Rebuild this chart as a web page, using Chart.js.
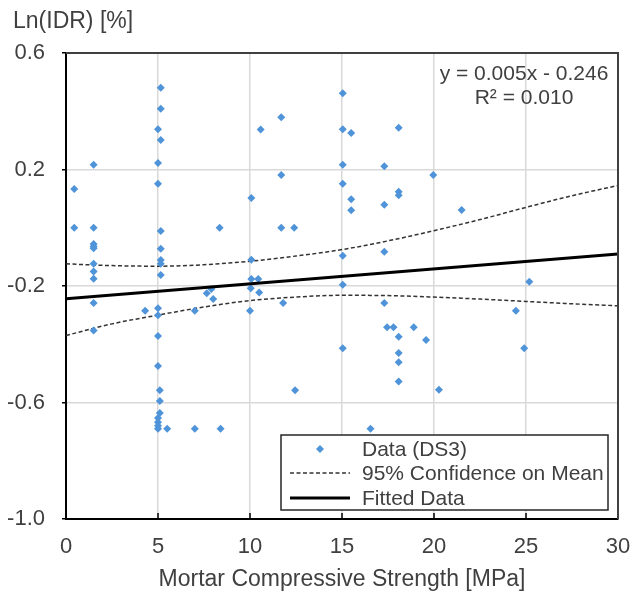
<!DOCTYPE html>
<html>
<head>
<meta charset="utf-8">
<script src="https://cdn.jsdelivr.net/npm/chart.js@4"></script>
<style>
  html, body { margin: 0; padding: 0; background: #fff; }
  #wrap { width: 635px; height: 599px; }
</style>
</head>
<body>
<div id="wrap"><canvas id="chart" width="635" height="599"></canvas></div>
<script>
// values
const xTicks = [0, 5, 10, 15, 20, 25, 30];
const yTicks = [-1.0, -0.6, -0.2, 0.2, 0.6];

const dataX = [
  0.45, 0.45,
  1.5, 1.5, 1.5, 1.5, 1.5, 1.5, 1.5, 1.5, 1.5, 1.5,
  5.15, 5.15, 5.0, 5.15, 5.0, 5.0, 5.15, 5.15, 5.15, 5.15, 5.15, 5.0, 5.0, 5.0, 5.0, 5.1, 5.1, 5.1, 5.0, 5.0, 5.0, 5.0,
  5.5, 4.3, 7.0, 7.0,
  7.65, 7.9, 8.0,
  8.35, 8.4,
  10.0, 10.07, 10.07, 10.07, 10.04, 10.45, 10.5,
  10.58, 11.7, 11.7, 11.7, 11.8, 12.4, 12.45,
  15.04, 15.04, 15.04, 15.04, 15.04, 15.04, 15.04,
  15.5, 15.5, 15.5,
  16.55,
  17.3, 17.3, 17.3, 17.3,
  17.45, 17.8,
  18.08, 18.08, 18.08, 18.08, 18.08, 18.08, 18.08,
  18.9, 19.57, 19.96, 20.27, 21.5, 24.45, 24.9, 25.18
];
const dataY = [
  0.133, 0.0,
  0.216, 0.0, -0.056, -0.064, -0.07, -0.124, -0.15, -0.175, -0.258, -0.353,
  0.481, 0.409, 0.338, 0.301, 0.222, 0.151, -0.011, -0.072, -0.111, -0.124, -0.162, -0.276, -0.30, -0.372, -0.475, -0.558, -0.595, -0.636, -0.653, -0.668, -0.68, -0.69,
  -0.69, -0.285, -0.285, -0.69,
  -0.225, -0.21, -0.245,
  0.0, -0.69,
  -0.285, 0.102, -0.11, -0.176, -0.208, -0.176, -0.222,
  0.337, 0.379, 0.181, 0.0, -0.258, 0.0, -0.558,
  0.462, 0.338, 0.216, 0.151, -0.096, -0.196, -0.414,
  0.325, 0.098, 0.06,
  -0.69,
  0.211, 0.079, -0.082, -0.258,
  -0.342, -0.342,
  0.343, 0.124, 0.112, -0.374, -0.43, -0.462, -0.528,
  -0.342, -0.385, 0.181, -0.556, 0.061, -0.285, -0.414, -0.185
];

const ciX = [0, 2.5, 5, 7.5, 10, 12.5, 15, 17.5, 20, 22.5, 25, 27.5, 30];
const ciUpper = [-0.124, -0.13, -0.132, -0.127, -0.115, -0.097, -0.075, -0.045, -0.01, 0.028, 0.07, 0.11, 0.145];
const ciLower = [-0.37, -0.33, -0.30, -0.272, -0.25, -0.238, -0.232, -0.233, -0.238, -0.245, -0.253, -0.261, -0.268];

const fitX = [0, 30];
const fitY = [-0.244, -0.09];

const eqText = 'y = 0.005x - 0.246';
const r2Text = 'R\u00B2 = 0.010';
const seriesNames = ['Data (DS3)', '95% Confidence on Mean', 'Fitted Data'];

const FONT = '"Liberation Sans", Arial, sans-serif';
const TEXT = '#404040';
const BLUE = '#4F93D8';

const pts = (xs, ys) => xs.map((x, i) => ({x: x, y: ys[i]}));

const overlay = {
  id: 'overlay',
  afterDraw(chart) {
    const {ctx, chartArea: a, scales: {x}} = chart;
    ctx.save();
    // top and right frame
    ctx.strokeStyle = '#404040';
    ctx.lineWidth = 2;
    ctx.beginPath();
    ctx.moveTo(a.left, a.top);
    ctx.lineTo(a.right, a.top);
    ctx.lineTo(a.right, a.bottom);
    ctx.stroke();
    // inward tick marks on the x axis
    ctx.strokeStyle = '#000';
    ctx.lineWidth = 1.5;
    xTicks.slice(1, -1).forEach(v => {
      const px = x.getPixelForValue(v);
      ctx.beginPath();
      ctx.moveTo(px, a.bottom);
      ctx.lineTo(px, a.bottom - 6);
      ctx.stroke();
    });
    // y axis title
    ctx.fillStyle = TEXT;
    ctx.font = '23px ' + FONT;
    ctx.textAlign = 'left';
    ctx.textBaseline = 'middle';
    ctx.fillText('Ln(IDR) [%]', 13, 22);
    // trendline equation
    ctx.font = '21px ' + FONT;
    ctx.textAlign = 'center';
    const ex = a.right - 94;
    ctx.fillText(eqText, ex, a.top + 21);
    ctx.fillText(r2Text, ex, a.top + 45);
    // legend box
    const lw = 327, lh = 75;
    const lx = a.right - 337, ly = a.bottom - 84;
    ctx.fillStyle = '#fff';
    ctx.fillRect(lx, ly, lw, lh);
    ctx.strokeStyle = '#262626';
    ctx.lineWidth = 1.5;
    ctx.strokeRect(lx, ly, lw, lh);
    const rows = [ly + 14, ly + 38, ly + 63];
    // marker
    ctx.fillStyle = BLUE;
    ctx.beginPath();
    ctx.moveTo(lx + 39, rows[0] - 4);
    ctx.lineTo(lx + 43, rows[0]);
    ctx.lineTo(lx + 39, rows[0] + 4);
    ctx.lineTo(lx + 35, rows[0]);
    ctx.closePath();
    ctx.fill();
    // dashed line
    ctx.strokeStyle = '#333';
    ctx.lineWidth = 1.5;
    ctx.setLineDash([4, 2.5]);
    ctx.beginPath();
    ctx.moveTo(lx + 9, rows[1]);
    ctx.lineTo(lx + 69, rows[1]);
    ctx.stroke();
    ctx.setLineDash([]);
    // solid line
    ctx.strokeStyle = '#000';
    ctx.lineWidth = 3;
    ctx.beginPath();
    ctx.moveTo(lx + 9, rows[2]);
    ctx.lineTo(lx + 69, rows[2]);
    ctx.stroke();
    ctx.fillStyle = TEXT;
    ctx.textAlign = 'left';
    seriesNames.forEach((s, i) => ctx.fillText(s, lx + 81, rows[i] + 1));
    ctx.restore();
  }
};

Chart.defaults.font.family = FONT;
Chart.defaults.color = TEXT;

new Chart(document.getElementById('chart').getContext('2d'), {
  type: 'scatter',
  data: {
    datasets: [
      {
        label: seriesNames[0],
        data: pts(dataX, dataY),
        pointStyle: 'rectRot',
        pointRadius: 4,
        pointBackgroundColor: BLUE,
        pointBorderWidth: 0,
        order: 1
      },
      {
        label: seriesNames[1],
        data: pts(ciX, ciUpper),
        showLine: true,
        borderColor: '#333',
        borderWidth: 1.5,
        borderDash: [4, 2.5],
        pointRadius: 0,
        cubicInterpolationMode: 'monotone',
        order: 2
      },
      {
        label: '',
        data: pts(ciX, ciLower),
        showLine: true,
        borderColor: '#333',
        borderWidth: 1.5,
        borderDash: [4, 2.5],
        pointRadius: 0,
        cubicInterpolationMode: 'monotone',
        order: 2
      },
      {
        label: seriesNames[2],
        data: pts(fitX, fitY),
        showLine: true,
        borderColor: '#000',
        borderWidth: 3,
        pointRadius: 0,
        order: 0
      }
    ]
  },
  options: {
    responsive: false,
    animation: false,
    layout: { padding: { left: 0, right: 17, top: 53, bottom: 6 } },
    plugins: {
      legend: { display: false },
      tooltip: { enabled: false },
      title: { display: false }
    },
    scales: {
      x: {
        type: 'linear',
        min: 0, max: 30,
        afterBuildTicks: s => { s.ticks = xTicks.map(v => ({value: v})); },
        afterFit: s => { s.height = 74; s.paddingRight = 0; s.paddingLeft = 0; },
        ticks: { font: { size: 22 }, color: TEXT, padding: 15, maxRotation: 0 },
        grid: { color: '#d9d9d9', lineWidth: 1.5, drawTicks: false },
        border: { color: '#000', width: 2 },
        title: { display: true, text: 'Mortar Compressive Strength [MPa]', font: { size: 23 }, color: TEXT, padding: { top: 6, bottom: 0 } }
      },
      y: {
        type: 'linear',
        min: -1.0, max: 0.6,
        afterBuildTicks: s => { s.ticks = yTicks.map(v => ({value: v})); },
        afterFit: s => { s.width = 66; },
        ticks: { font: { size: 22 }, color: TEXT, padding: 17, callback: v => v.toFixed(1) },
        grid: { color: '#d9d9d9', lineWidth: 1.5, tickLength: 4, tickColor: '#000' },
        border: { color: '#000', width: 2 }
      }
    }
  },
  plugins: [overlay]
});
</script>
</body>
</html>
